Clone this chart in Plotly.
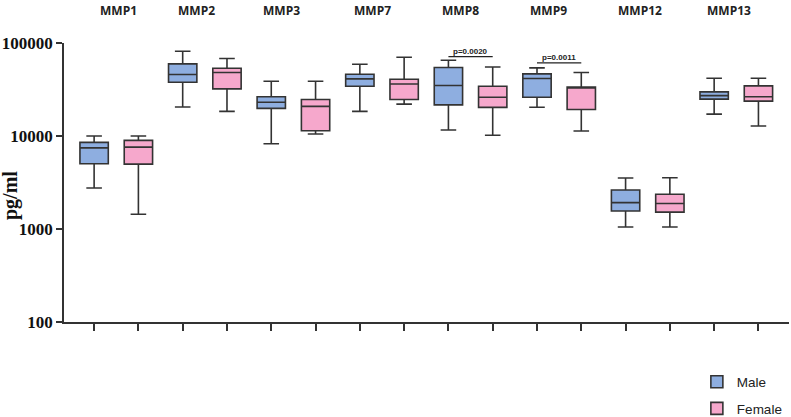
import plotly.graph_objects as go
import math

markers = ["MMP1", "MMP2", "MMP3", "MMP7", "MMP8", "MMP9", "MMP12", "MMP13"]

male_low = [2760, 20500, 8240, 18400, 11600, 20400, 1050, 17200]
male_q1 = [5030, 37900, 19800, 34300, 21600, 26100, 1560, 24900]
male_med = [7460, 45800, 23100, 41100, 34900, 41500, 1920, 27200]
male_q3 = [8530, 59600, 26400, 46100, 54500, 46600, 2630, 29800]
male_high = [10000, 81500, 38800, 59000, 65200, 54000, 3530, 41800]

female_low = [1440, 18400, 10500, 22000, 10200, 11300, 1050, 12800]
female_q1 = [4990, 32100, 11400, 24700, 20300, 19300, 1520, 23700]
female_med = [7600, 48100, 20800, 36300, 26100, 33200, 1880, 26400]
female_q3 = [8980, 53500, 24700, 40800, 34300, 33700, 2360, 34600]
female_high = [10000, 68100, 38800, 70300, 55300, 48100, 3560, 41800]

# significance brackets: (marker index, p-text, bracket height in pg/ml)
sig = [(4, "p=0.0020", 71300), (5, "p=0.0011", 61000)]

label_shift = [0.04, -0.18, -0.26, -0.22, -0.22, -0.25, -0.18, -0.17]

y_log_min, y_log_max = 2, 5

male_x = [2 * i for i in range(len(markers))]
female_x = [2 * i + 1 for i in range(len(markers))]

line_col = "#333333"
fig = go.Figure()
fig.add_trace(go.Box(
    name="Male", x=male_x, q1=male_q1, median=male_med, q3=male_q3,
    lowerfence=male_low, upperfence=male_high,
    fillcolor="#8eaee0", line=dict(color=line_col, width=1.6),
    width=0.64, whiskerwidth=0.55, boxpoints=False, legendgroup="m",
))
fig.add_trace(go.Box(
    name="Female", x=female_x, q1=female_q1, median=female_med, q3=female_q3,
    lowerfence=female_low, upperfence=female_high,
    fillcolor="#f6a8cc", line=dict(color=line_col, width=1.6),
    width=0.64, whiskerwidth=0.55, boxpoints=False, legendgroup="f",
))

annotations = []
for i, m in enumerate(markers):
    annotations.append(dict(
        x=2 * i + 0.5 + label_shift[i], y=1.117, xref="x", yref="paper",
        text="<b>" + m + "</b>", showarrow=False,
        font=dict(family="Open Sans", size=12, color="#222222"),
        xanchor="center", yanchor="middle",
    ))

shapes = []
for idx, txt, h in sig:
    py = (math.log10(h) - y_log_min) / (y_log_max - y_log_min)
    shapes.append(dict(type="line", xref="x", yref="paper", x0=2 * idx, x1=2 * idx + 1,
                       y0=py, y1=py, line=dict(color="#222222", width=1.2), layer="above"))
    annotations.append(dict(
        x=2 * idx + 0.5, y=py, xref="x", yref="paper", text="<b>" + txt + "</b>",
        showarrow=False, yanchor="bottom", xanchor="center", yshift=-1,
        font=dict(family="Liberation Sans", size=8, color="#222222"),
    ))

annotations.append(dict(
    x=-0.0745, y=0.455, xref="paper", yref="paper", text="<b>pg/ml</b>",
    textangle=-90, showarrow=False, xanchor="center", yanchor="middle",
    font=dict(family="Liberation Serif", size=20, color="#111111"),
))

fig.update_layout(
    width=791, height=417,
    margin=dict(l=64, r=2, t=43, b=95, autoexpand=False),
    plot_bgcolor="white", paper_bgcolor="white",
    showlegend=True,
    legend=dict(x=0.881, y=0.121, xref="container", yref="container",
                xanchor="left", yanchor="top",
                font=dict(family="Liberation Sans", size=13.5, color="#222222"),
                tracegroupgap=6, traceorder="grouped", bgcolor="rgba(0,0,0,0)"),
    annotations=annotations, shapes=shapes,
)
fig.update_xaxes(
    range=[-0.68, 15.69], tickvals=list(range(16)), showticklabels=False,
    ticks="outside", ticklen=7, tickwidth=1.5, tickcolor=line_col, automargin=False,
    showline=True, linecolor=line_col, linewidth=1.6, showgrid=False, zeroline=False,
)
fig.update_yaxes(
    type="log", range=[y_log_min, y_log_max], automargin=False,
    tickvals=[100, 1000, 10000, 100000],
    ticktext=["<b>100</b>", "<b>1000</b>", "<b>10000</b>", "<b>100000</b>"],
    tickfont=dict(family="Liberation Sans Narrow", size=17, color="#111111"),
    ticks="outside", ticklen=6, tickwidth=1.5, tickcolor=line_col,
    showline=True, linecolor=line_col, linewidth=1.6, showgrid=False, zeroline=False,
)

fig.write_html("out.html", config={"displayModeBar": False},
               post_script="document.body.style.margin='0px';")
